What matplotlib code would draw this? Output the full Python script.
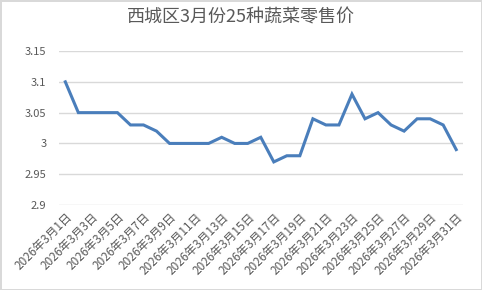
import matplotlib.pyplot as plt
import numpy as np

plt.rcParams['font.family'] = ['Noto Sans CJK SC', 'DejaVu Sans']

days = list(range(1, 32))
dates = [f'2026年3月{d}日' for d in days]
prices = [3.10, 3.05, 3.05, 3.05, 3.05, 3.03, 3.03, 3.02, 3.00, 3.00,
          3.00, 3.00, 3.01, 3.00, 3.00, 3.01, 2.97, 2.98, 2.98, 3.04,
          3.03, 3.03, 3.08, 3.04, 3.05, 3.03, 3.02, 3.04, 3.04, 3.03,
          2.99]
yticks = [2.9, 2.95, 3.0, 3.05, 3.1, 3.15]
ytick_labels = ['2.9', '2.95', '3', '3.05', '3.1', '3.15']

fig = plt.figure(figsize=(4.82, 2.9), dpi=100)
fig.patch.set_edgecolor('#d9d9d9')
fig.patch.set_linewidth(1)
ax = fig.add_axes([0.122, 0.293, 0.838, 0.531])

ax.plot(days, prices, color='#4a7ebb', linewidth=2.2, solid_joinstyle='miter')

ax.set_xlim(0.5, 31.5)
ax.set_ylim(2.9, 3.15)
ax.set_yticks(yticks)
ax.set_yticklabels(ytick_labels)
ax.grid(axis='y', color='#d9d9d9', linewidth=1)
ax.set_axisbelow(True)
for s in ax.spines.values():
    s.set_visible(False)

ax.set_xticks(days[::2])
ax.set_xticklabels(dates[::2], rotation=45, ha='right', rotation_mode='anchor')
ax.tick_params(length=0, colors='#595959')
ax.tick_params(axis='y', labelsize=8, pad=9)
ax.tick_params(axis='x', labelsize=8.5, pad=4)

fig.text(0.5, 0.94, '西城区3月份25种蔬菜零售价', ha='center', va='center',
         fontsize=13, color='#595959')

fig.savefig('out.png', dpi=100)
